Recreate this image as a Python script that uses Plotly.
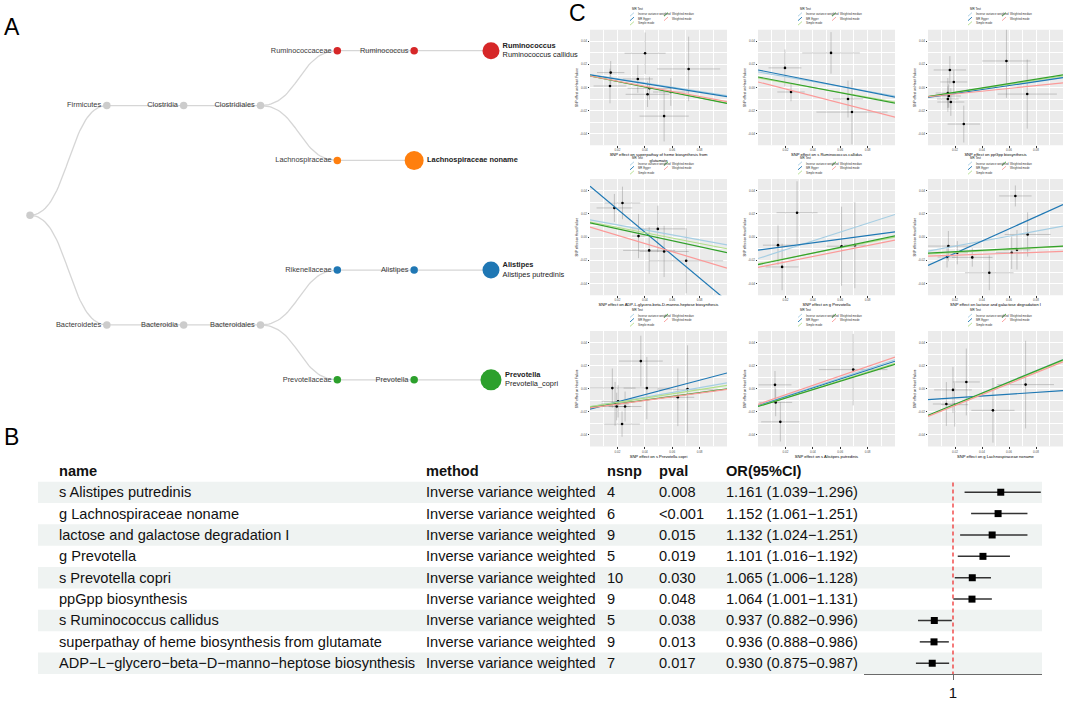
import numpy as np
import plotly.graph_objects as go

W, H = 1065, 701
FONT = "Liberation Sans, Arial, Helvetica, sans-serif"

# ======================= DATA =======================
# ---- Panel A: taxonomy tree ----
tree_nodes = ["root", "Firmicutes", "Clostridia", "Clostridiales", "Ruminococcaceae",
              "Ruminococcus", "Ruminococcus callidus", "Lachnospiraceae", "Lachnospiraceae noname",
              "Bacteroidetes", "Bacteroidia", "Bacteroidales", "Rikenellaceae", "Alistipes",
              "Alistipes putredinis", "Prevotellaceae", "Prevotella", "Prevotella copri"]
tree_parents = [None, "root", "Firmicutes", "Clostridia", "Clostridiales",
                "Ruminococcaceae", "Ruminococcus", "Clostridiales", "Lachnospiraceae",
                "root", "Bacteroidetes", "Bacteroidia", "Bacteroidales", "Rikenellaceae",
                "Alistipes", "Bacteroidales", "Prevotellaceae", "Prevotella"]
tree_groups = ["none", "none", "none", "none", "Ruminococcus",
               "Ruminococcus", "Ruminococcus", "Lachnospiraceae", "Lachnospiraceae",
               "none", "none", "none", "Alistipes", "Alistipes",
               "Alistipes", "Prevotella", "Prevotella", "Prevotella"]
leaf_titles = {"Ruminococcus callidus": "Ruminococcus",
               "Lachnospiraceae noname": "Lachnospiraceae noname",
               "Alistipes putredinis": "Alistipes",
               "Prevotella copri": "Prevotella"}
leaf_subtitles = {"Ruminococcus callidus": "Ruminococcus callidus",
                  "Lachnospiraceae noname": "",
                  "Alistipes putredinis": "Alistipes putredinis",
                  "Prevotella copri": "Prevotella_copri"}

# ---- Panel B: MR results table + forest ----
mr_names = ["s Alistipes putredinis", "g Lachnospiraceae noname",
            "lactose and galactose degradation I", "g Prevotella", "s Prevotella copri",
            "ppGpp biosynthesis", "s Ruminococcus callidus",
            "superpathay of heme biosynthesis from glutamate",
            "ADP\u2212L\u2212glycero\u2212beta\u2212D\u2212manno\u2212heptose biosynthesis"]
mr_method = ["Inverse variance weighted"] * 9
mr_nsnp = [4, 6, 9, 5, 10, 9, 5, 9, 7]
mr_pval = ["0.008", "&lt;0.001", "0.015", "0.019", "0.030", "0.048", "0.038", "0.013", "0.017"]
mr_or = [1.161, 1.152, 1.132, 1.101, 1.065, 1.064, 0.937, 0.936, 0.930]
mr_lo = [1.039, 1.061, 1.024, 1.016, 1.006, 1.001, 0.882, 0.888, 0.875]
mr_hi = [1.296, 1.251, 1.251, 1.192, 1.128, 1.131, 0.996, 0.986, 0.987]
table_headers = ["name", "method", "nsnp", "pval", "OR(95%CI)"]
forest_ticks = [1]

# ---- Panel C: MR scatter plots ----
c_xtitles = ["SNP effect on superpathay of heme biosynthesis from<br>glutamate",
             "SNP effect on s Ruminococcus callidus",
             "SNP effect on ppGpp biosynthesis",
             "SNP effect on ADP-L-glycero-beta-D-manno-heptose biosynthesis",
             "SNP effect on g Prevotella",
             "SNP effect on lactose and galactose degradation I",
             "SNP effect on s Prevotella copri",
             "SNP effect on s Alistipes putredinis",
             "SNP effect on g Lachnospiraceae noname"]
c_ytitle = "SNP effect on Heart Failure"
mr_methods = ["Inverse variance weighted", "MR Egger", "Simple mode", "Weighted median", "Weighted mode"]

c_bx = [
    [0.0151, 0.0146, 0.0402, 0.0349, 0.0434, 0.0420, 0.0590, 0.0720, 0.0541],
    [0.0197, 0.0241, 0.0533, 0.0657, 0.0686],
    [0.0162, 0.0191, 0.0147, 0.0147, 0.0169, 0.0265, 0.0581, 0.0735, 0.0154],
    [0.0178, 0.0237, 0.0354, 0.0495, 0.0432, 0.0541, 0.0702],
    [0.0146, 0.0285, 0.0176, 0.0610, 0.0707],
    [0.0647, 0.0151, 0.0217, 0.0141, 0.0328, 0.0454, 0.0659, 0.0738, 0.0620],
    [0.0163, 0.0371, 0.0415, 0.0183, 0.0205, 0.0195, 0.0256, 0.0234, 0.0641, 0.0712],
    [0.0124, 0.0129, 0.0163, 0.0695],
    [0.0185, 0.0284, 0.0136, 0.0198, 0.0481, 0.0723],
]
c_by = [
    [0.0129, 0.0013, 0.0297, 0.0074, -0.0007, -0.0059, -0.0039, 0.0161, -0.0248],
    [0.0170, -0.0039, 0.0300, -0.0100, -0.0213],
    [0.0152, 0.0048, -0.0048, -0.0100, -0.0126, -0.0317, 0.0230, -0.0057, -0.0074],
    [0.0251, 0.0294, 0.0009, 0.0071, -0.0114, -0.0123, -0.0203],
    [-0.0069, 0.0210, -0.0256, -0.0078, -0.0069],
    [0.0354, -0.0077, -0.0134, -0.0171, -0.0174, -0.0306, -0.0109, 0.0023, -0.0134],
    [0.0006, 0.0240, 0.0006, -0.0131, -0.0109, -0.0154, -0.0154, -0.0306, -0.0074, -0.0003],
    [0.0034, -0.0118, -0.0287, 0.0166],
    [-0.0010, 0.0059, -0.0132, -0.0138, -0.0187, 0.0036],
]
c_sex = [
    [0.010, 0.012, 0.015, 0.011, 0.016, 0.016, 0.013, 0.023, 0.018],
    [0.012, 0.010, 0.021, 0.011, 0.026],
    [0.012, 0.010, 0.009, 0.008, 0.010, 0.012, 0.018, 0.022, 0.009],
    [0.013, 0.013, 0.005, 0.020, 0.019, 0.018, 0.027],
    [0.011, 0.015, 0.012, 0.011, 0.008],
    [0.012, 0.017, 0.008, 0.007, 0.015, 0.018, 0.010, 0.017, 0.012],
    [0.017, 0.016, 0.017, 0.010, 0.012, 0.010, 0.012, 0.013, 0.012, 0.022],
    [0.012, 0.012, 0.014, 0.025],
    [0.014, 0.010, 0.010, 0.010, 0.016, 0.021],
]
c_sey = [
    [0.010, 0.015, 0.018, 0.012, 0.010, 0.011, 0.012, 0.028, 0.022],
    [0.016, 0.008, 0.018, 0.016, 0.028],
    [0.012, 0.010, 0.013, 0.011, 0.012, 0.016, 0.032, 0.030, 0.010],
    [0.012, 0.014, 0.019, 0.020, 0.020, 0.022, 0.028],
    [0.017, 0.027, 0.020, 0.034, 0.037],
    [0.009, 0.013, 0.010, 0.009, 0.008, 0.015, 0.017, 0.019, 0.014],
    [0.017, 0.022, 0.027, 0.019, 0.014, 0.012, 0.013, 0.011, 0.025, 0.038],
    [0.012, 0.012, 0.017, 0.031],
    [0.020, 0.029, 0.019, 0.019, 0.028, 0.038],
]
# intercept / slope per method (IVW, Egger, Simple mode, W median, W mode)
c_int = [
    [0.0112, 0.0109, 0.0100, 0.0100, 0.0100],
    [0.0135, 0.0152, 0.0083, 0.0091, 0.0048],
    [-0.0080, -0.0085, -0.0080, -0.0080, -0.0080],
    [0.0149, 0.0437, 0.0130, 0.0123, 0.0086],
    [-0.0184, -0.0112, -0.0230, -0.0236, -0.0260],
    [-0.0120, -0.0243, -0.0145, -0.0137, -0.0163],
    [-0.0157, -0.0177, -0.0155, -0.0163, -0.0166],
    [-0.0144, -0.0149, -0.0152, -0.0154, -0.0135],
    [-0.0230, -0.0094, -0.0235, -0.0230, -0.0239],
]
c_slope = [
    [-0.182, -0.189, -0.235, -0.238, -0.223],
    [-0.209, -0.235, -0.209, -0.226, -0.305],
    [0.170, 0.170, 0.180, 0.190, 0.120],
    [-0.215, -0.985, -0.230, -0.257, -0.352],
    [0.379, 0.158, 0.230, 0.247, 0.234],
    [0.214, 0.523, 0.065, 0.060, 0.040],
    [0.208, 0.314, 0.185, 0.163, 0.160],
    [0.396, 0.388, 0.372, 0.365, 0.410],
    [0.484, 0.078, 0.480, 0.480, 0.472],
]
C_XRANGE = [0.0, 0.1]
C_YRANGE = [-0.05, 0.05]
C_XTICKS = [0.02, 0.04, 0.06, 0.08]
C_XMINOR = [0.01, 0.03, 0.05, 0.07, 0.09]
C_YTICKS = [-0.04, -0.02, 0.0, 0.02, 0.04]
C_YMINOR = [-0.03, -0.01, 0.01, 0.03]

# ======================= STYLE / LAYOUT CONSTANTS =======================
group_colors = {"none": "#cccccc", "Ruminococcus": "#d62728", "Lachnospiraceae": "#ff7f0e",
                "Alistipes": "#1f77b4", "Prevotella": "#2ca02c"}
leaf_marker_size = {"Ruminococcus callidus": 17, "Lachnospiraceae noname": 19,
                    "Alistipes putredinis": 17, "Prevotella copri": 21}
method_colors = ["#a6cee3", "#1f78b4", "#b2df8a", "#33a02c", "#fb9a99"]

TREE_X0, TREE_DX = 30.0, 76.83      # px of depth 0, px per depth level
TREE_Y0, TREE_DY = 51.0, 110.33     # px of first leaf slot, px per slot
TREE_BOX = (0, 560, 0, 420)         # left, right, top, bottom px

ROW_TOP, ROW_H = 484.3, 21.5
col_px = [57, 424, 605, 657, 724]
HEADER_Y = 473.5
FOREST_X = (864, 1042)
BAND_X = (38, 1042)

C_COLS = [(590, 727), (758, 895), (928, 1063)]
C_ROWS = [(30, 146), (180, 297), (333, 449)]


def pxx(v):
    return v / W


def pxy(v):
    return 1 - v / H


fig = go.Figure()
annotations = []
shapes = []

# ======================= PANEL A =======================
children = {n: [] for n in tree_nodes}
for n, p in zip(tree_nodes, tree_parents):
    if p is not None:
        children[p].append(n)
depth, slot = {}, {}
counter = [0]


def place(n, d):
    depth[n] = d
    if not children[n]:
        slot[n] = counter[0]
        counter[0] += 1
    else:
        for c in children[n]:
            place(c, d + 1)
        slot[n] = float(np.mean([slot[c] for c in children[n]]))


place("root", 0)

t = np.linspace(0, 1, 40)
lx, ly = [], []
for n, p in zip(tree_nodes, tree_parents):
    if p is None:
        continue
    x0, y0, x1, y1 = depth[p], slot[p], depth[n], slot[n]
    xm = (x0 + x1) / 2
    bx = (1 - t) ** 3 * x0 + 3 * (1 - t) ** 2 * t * xm + 3 * (1 - t) * t ** 2 * xm + t ** 3 * x1
    by = (1 - t) ** 3 * y0 + 3 * (1 - t) ** 2 * t * y0 + 3 * (1 - t) * t ** 2 * y1 + t ** 3 * y1
    lx += list(bx) + [None]
    ly += list(by) + [None]
fig.add_trace(go.Scatter(x=lx, y=ly, mode="lines", line=dict(color="#d6d6d6", width=1.3),
                         hoverinfo="skip", xaxis="x", yaxis="y", cliponaxis=False))

internal = [n for n in tree_nodes if children[n]]
fig.add_trace(go.Scatter(
    x=[depth[n] for n in internal], y=[slot[n] for n in internal],
    mode="markers+text",
    marker=dict(size=7.5, opacity=1, line=dict(width=0),
                color=[group_colors[tree_groups[tree_nodes.index(n)]] for n in internal]),
    text=["" if n == "root" else n for n in internal], textposition="middle left",
    textfont=dict(family=FONT, size=7.4, color="#3a3a3a"),
    xaxis="x", yaxis="y", cliponaxis=False, hoverinfo="text"))

leaves = [n for n in tree_nodes if not children[n]]
leaf_text = []
for n in leaves:
    s = "<b>%s</b>" % leaf_titles[n]
    if leaf_subtitles[n]:
        s += "<br>" + leaf_subtitles[n]
    leaf_text.append(s)
fig.add_trace(go.Scatter(
    x=[depth[n] for n in leaves], y=[slot[n] for n in leaves],
    mode="markers+text",
    marker=dict(size=[leaf_marker_size[n] for n in leaves], opacity=1, line=dict(width=0),
                color=[group_colors[tree_groups[tree_nodes.index(n)]] for n in leaves]),
    text=leaf_text, textposition="middle right",
    textfont=dict(family=FONT, size=7.4, color="#222222"),
    xaxis="x", yaxis="y", cliponaxis=False, hoverinfo="text"))

tl, tr, tt, tb = TREE_BOX
layout_axes = {
    "xaxis": dict(domain=[pxx(tl), pxx(tr)],
                  range=[(tl - TREE_X0) / TREE_DX, (tr - TREE_X0) / TREE_DX],
                  visible=False, anchor="y"),
    "yaxis": dict(domain=[pxy(tb), pxy(tt)],
                  range=[(tb - TREE_Y0) / TREE_DY, (tt - TREE_Y0) / TREE_DY],
                  visible=False, anchor="x"),
}

# ======================= PANEL B =======================
nrow = len(mr_names)
rows = list(range(nrow))
for i in rows:
    if i % 2 == 0:
        shapes.append(dict(type="rect", xref="paper", yref="y2",
                           x0=pxx(BAND_X[0]), x1=pxx(BAND_X[1]), y0=i - 0.5, y1=i + 0.5,
                           fillcolor="#eff3f2", line=dict(width=0), layer="below"))
cols = [mr_names, mr_method, [str(v) for v in mr_nsnp], mr_pval,
        ["%.3f (%.3f\u2212%.3f)" % (o, l, h) for o, l, h in zip(mr_or, mr_lo, mr_hi)]]
for ci, col in enumerate(cols):
    annotations.append(dict(text="<b>%s</b>" % table_headers[ci], x=pxx(col_px[ci]), y=pxy(HEADER_Y),
                            xref="paper", yref="paper", xanchor="left", yanchor="middle",
                            showarrow=False, font=dict(family=FONT, size=14.6, color="#111111")))
    for i, v in enumerate(col):
        annotations.append(dict(text=v, x=pxx(col_px[ci]), y=i, xref="paper", yref="y2",
                                xanchor="left", yanchor="middle", showarrow=False,
                                font=dict(family=FONT, size=14.6, color="#111111")))

fig.add_trace(go.Scatter(
    x=mr_or, y=rows, mode="markers",
    marker=dict(symbol="square", size=7, color="black"),
    error_x=dict(type="data", symmetric=False,
                 array=[h - o for h, o in zip(mr_hi, mr_or)],
                 arrayminus=[o - l for o, l in zip(mr_or, mr_lo)],
                 color="#333333", thickness=1.5, width=0),
    xaxis="x2", yaxis="y2", cliponaxis=False))
shapes.append(dict(type="line", xref="x2", yref="y2", x0=1, x1=1, y0=-0.45, y1=nrow - 0.5,
                   line=dict(color="#ee2222", width=1.2, dash="4px,3px")))
layout_axes["xaxis2"] = dict(domain=[pxx(FOREST_X[0]), pxx(FOREST_X[1])], range=[0.7, 1.3],
                             anchor="y2", showline=True, linecolor="#6a6a6a", linewidth=1.2,
                             ticks="outside", ticklen=5, tickcolor="#6a6a6a", tickwidth=1.2,
                             tickvals=forest_ticks, ticktext=[str(v) for v in forest_ticks],
                             tickfont=dict(family=FONT, size=15, color="#111111"),
                             showgrid=False, zeroline=False)
layout_axes["yaxis2"] = dict(domain=[pxy(ROW_TOP + ROW_H * nrow), pxy(ROW_TOP)],
                             range=[nrow - 0.5, -0.5], visible=False, anchor="x2")

# ======================= PANEL C =======================
legend_pos = [(0, 0), (0, 1), (0, 2), (1, 0), (1, 1)]   # (column, row) within mini legend
LEG_COLX = [40, 74]
LEG_ROWY = [-15.5, -11.0, -6.5]
for k in range(9):
    r, c = divmod(k, 3)
    xid, yid = "x%d" % (k + 3), "y%d" % (k + 3)
    L, R = C_COLS[c]
    T, B = C_ROWS[r]
    layout_axes["xaxis%d" % (k + 3)] = dict(
        domain=[pxx(L), pxx(R)], anchor=yid, range=C_XRANGE,
        tickvals=C_XTICKS, ticktext=["%.2f" % v for v in C_XTICKS],
        minor=dict(tickvals=C_XMINOR, showgrid=True, gridcolor="white", gridwidth=0.3, ticks=""),
        showgrid=True, gridcolor="white", gridwidth=0.6, zeroline=False,
        ticks="outside", ticklen=1.5, tickwidth=0.4, tickcolor="#333333",
        tickfont=dict(family=FONT, size=3, color="#4d4d4d"),
        title=dict(text=c_xtitles[k], font=dict(family=FONT, size=4.1, color="black"), standoff=1.0))
    layout_axes["yaxis%d" % (k + 3)] = dict(
        domain=[pxy(B), pxy(T)], anchor=xid, range=C_YRANGE,
        tickvals=C_YTICKS, ticktext=["%.2f" % v for v in C_YTICKS],
        minor=dict(tickvals=C_YMINOR, showgrid=True, gridcolor="white", gridwidth=0.3, ticks=""),
        showgrid=True, gridcolor="white", gridwidth=0.6, zeroline=False,
        ticks="outside", ticklen=1.5, tickwidth=0.4, tickcolor="#333333",
        tickfont=dict(family=FONT, size=3, color="#4d4d4d"),
        title=dict(text=c_ytitle, font=dict(family=FONT, size=3.2, color="black"), standoff=1.5))
    shapes.append(dict(type="rect", xref=xid + " domain", yref=yid + " domain", x0=0, x1=1, y0=0, y1=1,
                       fillcolor="#ebebeb", line=dict(width=0), layer="below"))
    # points with error bars
    fig.add_trace(go.Scatter(
        x=c_bx[k], y=c_by[k], mode="markers",
        marker=dict(size=2.6, color="black"),
        error_x=dict(type="data", array=c_sex[k], color="rgba(95,95,95,0.6)", thickness=0.5, width=0),
        error_y=dict(type="data", array=c_sey[k], color="rgba(95,95,95,0.6)", thickness=0.5, width=0),
        xaxis=xid, yaxis=yid, cliponaxis=True))
    # regression lines
    xr = np.array(C_XRANGE)
    for m in range(5):
        fig.add_trace(go.Scatter(x=xr, y=c_int[k][m] + c_slope[k][m] * xr, mode="lines",
                                 line=dict(color=method_colors[m], width=1.2),
                                 xaxis=xid, yaxis=yid, hoverinfo="skip"))
    # mini legend
    annotations.append(dict(text="MR Test", x=pxx(L + LEG_COLX[0]), y=pxy(T - 21), xref="paper", yref="paper",
                            xanchor="left", yanchor="middle", showarrow=False,
                            font=dict(family=FONT, size=3, color="#222222")))
    for m, (lc, lr) in enumerate(legend_pos):
        gx = L + LEG_COLX[lc]
        gy = T + LEG_ROWY[lr]
        shapes.append(dict(type="line", xref="paper", yref="paper",
                           x0=pxx(gx), x1=pxx(gx + 4), y0=pxy(gy + 1.8), y1=pxy(gy - 1.8),
                           line=dict(color=method_colors[m], width=0.9)))
        annotations.append(dict(text=mr_methods[m], x=pxx(gx + 5.5), y=pxy(gy), xref="paper", yref="paper",
                                xanchor="left", yanchor="middle", showarrow=False,
                                font=dict(family=FONT, size=2.8, color="#333333")))

# panel letters
for letter, (lx_, ly_) in zip(["A", "B", "C"], [(2, 27), (2, 440), (567, 13)]):
    annotations.append(dict(text=letter, x=pxx(lx_), y=pxy(ly_), xref="paper", yref="paper",
                            xanchor="left", yanchor="middle", showarrow=False,
                            font=dict(family=FONT, size=23, color="black")))

fig.update_layout(
    width=W, height=H, margin=dict(l=0, r=0, t=0, b=0),
    paper_bgcolor="white", plot_bgcolor="rgba(0,0,0,0)",
    showlegend=False, annotations=annotations, shapes=shapes,
    font=dict(family=FONT),
    **layout_axes)

fig.write_html("out.html", config={"displayModeBar": False},
               post_script="document.body.style.margin='0';document.body.style.padding='0';")
